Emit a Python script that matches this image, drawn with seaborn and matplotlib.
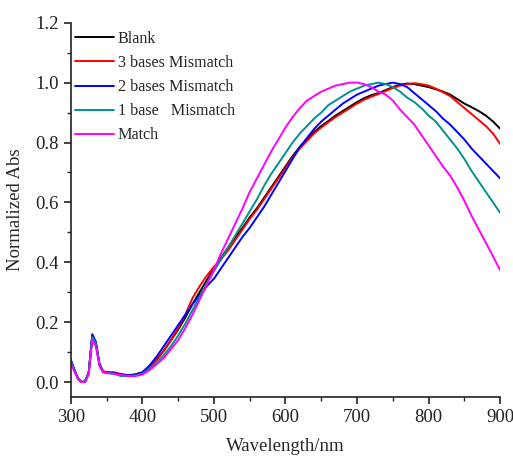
import numpy as np
import pandas as pd
import matplotlib
matplotlib.use("Agg")
import matplotlib.pyplot as plt
from matplotlib.ticker import MultipleLocator
import seaborn as sns

wavelength = [300, 305, 310, 315, 320, 325, 330, 335, 340, 345, 350,
              360, 370, 380, 390, 400, 410, 420, 430, 440, 450, 460, 470, 480, 490,
              500, 510, 520, 530, 540, 550, 560, 570, 580, 590,
              600, 610, 620, 630, 640, 650, 660, 670, 680, 690,
              700, 710, 720, 730, 740, 750, 760, 770, 780, 790,
              800, 810, 820, 830, 840, 850, 860, 870, 880, 890, 900]

blank = [0.07, 0.04, 0.012, 0.0, 0.002, 0.03, 0.155, 0.13, 0.06, 0.035, 0.032,
         0.03, 0.025, 0.022, 0.024, 0.03, 0.05, 0.075, 0.105, 0.14, 0.175, 0.215, 0.26, 0.30, 0.34,
         0.38, 0.415, 0.45, 0.485, 0.515, 0.55, 0.58, 0.615, 0.65, 0.685,
         0.72, 0.755, 0.785, 0.81, 0.835, 0.855, 0.872, 0.89, 0.905, 0.92,
         0.935, 0.948, 0.958, 0.965, 0.975, 0.985, 0.993, 0.997, 0.995, 0.99,
         0.985, 0.978, 0.97, 0.96, 0.945, 0.93, 0.918, 0.905, 0.89, 0.87, 0.846]

mis3 = [0.068, 0.04, 0.012, 0.0, 0.002, 0.03, 0.15, 0.128, 0.06, 0.036, 0.034,
        0.033, 0.027, 0.023, 0.026, 0.032, 0.05, 0.075, 0.105, 0.14, 0.18, 0.225, 0.28, 0.32, 0.355,
        0.385, 0.41, 0.44, 0.475, 0.51, 0.545, 0.575, 0.61, 0.645, 0.68,
        0.715, 0.75, 0.78, 0.805, 0.83, 0.85, 0.868, 0.885, 0.9, 0.915,
        0.93, 0.943, 0.953, 0.962, 0.972, 0.982, 0.99, 0.995, 0.998, 0.995,
        0.99, 0.98, 0.968, 0.955, 0.935, 0.915, 0.895, 0.875, 0.855, 0.83, 0.795]

mis2 = [0.075, 0.042, 0.013, 0.0, 0.003, 0.032, 0.16, 0.135, 0.062, 0.035, 0.031,
        0.03, 0.026, 0.022, 0.025, 0.033, 0.055, 0.085, 0.12, 0.155, 0.19, 0.225, 0.26, 0.29, 0.32,
        0.345, 0.38, 0.415, 0.45, 0.485, 0.515, 0.55, 0.585, 0.625, 0.665,
        0.705, 0.745, 0.785, 0.815, 0.845, 0.87, 0.89, 0.91, 0.93, 0.945,
        0.96, 0.97, 0.98, 0.99, 0.995, 1.0, 0.995, 0.985, 0.965, 0.945,
        0.925, 0.905, 0.88, 0.86, 0.835, 0.81, 0.78, 0.755, 0.73, 0.705, 0.68]

mis1 = [0.068, 0.04, 0.012, 0.0, 0.002, 0.03, 0.15, 0.128, 0.058, 0.033, 0.03,
        0.028, 0.02, 0.02, 0.022, 0.028, 0.045, 0.065, 0.09, 0.12, 0.155, 0.195, 0.24, 0.285, 0.33,
        0.37, 0.41, 0.45, 0.49, 0.53, 0.57, 0.61, 0.655, 0.695, 0.73,
        0.765, 0.80, 0.83, 0.855, 0.88, 0.90, 0.925, 0.94, 0.955, 0.97,
        0.98, 0.99, 0.995, 1.0, 0.995, 0.985, 0.97, 0.95, 0.935, 0.915,
        0.89, 0.87, 0.84, 0.81, 0.78, 0.745, 0.705, 0.67, 0.635, 0.60, 0.565]

match = [0.06, 0.035, 0.01, 0.0, 0.0, 0.025, 0.14, 0.12, 0.055, 0.033, 0.03,
         0.028, 0.024, 0.02, 0.02, 0.025, 0.04, 0.06, 0.08, 0.11, 0.14, 0.18, 0.225, 0.275, 0.325,
         0.375, 0.43, 0.48, 0.53, 0.58, 0.635, 0.68, 0.725, 0.77, 0.81,
         0.85, 0.885, 0.915, 0.94, 0.955, 0.97, 0.98, 0.99, 0.995, 1.0,
         1.0, 0.995, 0.985, 0.97, 0.96, 0.94, 0.91, 0.885, 0.86, 0.825,
         0.79, 0.755, 0.72, 0.69, 0.65, 0.605, 0.555, 0.51, 0.465, 0.42, 0.373]

labels = ["Blank", "3 bases Mismatch", "2 bases Mismatch", "1 base   Mismatch", "Match"]
colors = ["#000000", "#ff0000", "#0000ff", "#009090", "#ff00ff"]

series = [blank, mis3, mis2, mis1, match]
df = pd.concat([pd.DataFrame({"Wavelength": wavelength, "Abs": s, "Sample": lab})
                for s, lab in zip(series, labels)], ignore_index=True)

sns.set_style("ticks")
plt.rcParams["font.family"] = ["Liberation Serif", "DejaVu Serif"]

fig = plt.figure(figsize=(5.13, 4.59), dpi=100)
ax = fig.add_axes([0.138, 0.135, 0.837, 0.8155])

sns.lineplot(data=df, x="Wavelength", y="Abs", hue="Sample", hue_order=labels,
             palette=colors, linewidth=1.4, ax=ax, sort=False)

ax.set_xlim(300, 900)
ax.set_ylim(-0.05, 1.2)
ax.xaxis.set_major_locator(MultipleLocator(100))
ax.xaxis.set_minor_locator(MultipleLocator(50))
ax.yaxis.set_major_locator(MultipleLocator(0.2))
ax.yaxis.set_minor_locator(MultipleLocator(0.1))
ax.yaxis.set_major_formatter(matplotlib.ticker.FormatStrFormatter("%.1f"))
ax.tick_params(which="major", direction="out", length=5, width=1.2, labelsize=13.5, colors="#222222")
ax.tick_params(which="minor", direction="out", length=3, width=1.0)
for side in ["top", "right"]:
    ax.spines[side].set_visible(False)
for side in ["left", "bottom"]:
    ax.spines[side].set_linewidth(1.2)
    ax.spines[side].set_color("#222222")

ax.set_xlabel("Wavelength/nm", fontsize=13.5, labelpad=9)
ax.set_ylabel("Normalized Abs", fontsize=13.5, labelpad=8)

ax.legend(loc="upper left", bbox_to_anchor=(-0.005, 0.995), frameon=False, fontsize=11.6,
          handlelength=2.4, handletextpad=0.25, labelspacing=0.5, borderaxespad=0.0)

fig.savefig("out.png", dpi=100)
